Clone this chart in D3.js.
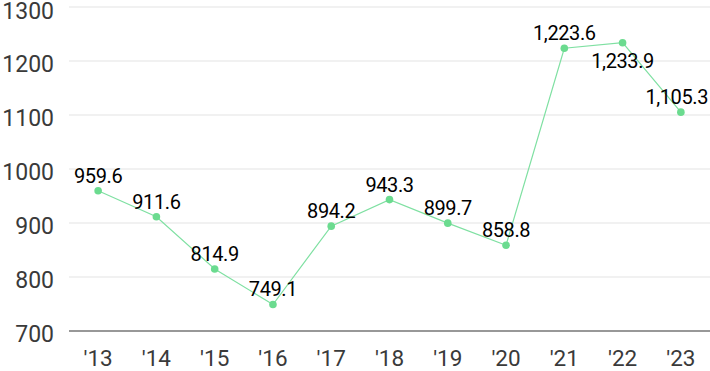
<!DOCTYPE html>
<html lang="ko">
<head>
  <meta charset="UTF-8" />
  <title>Line chart</title>
  <style>
    body { margin: 0; background: #fff; }
    svg { display: block; font-family: Roboto, "Noto Sans", sans-serif; }
  </style>
</head>
<body>
  <svg width="710" height="371"></svg>
  <script src="https://cdnjs.cloudflare.com/ajax/libs/d3/7.8.5/d3.min.js"></script>
  <script>
    // data
    const years = ["'13", "'14", "'15", "'16", "'17", "'18", "'19", "'20", "'21", "'22", "'23"];
    const values = [959.6, 911.6, 814.9, 749.1, 894.2, 943.3, 899.7, 858.8, 1223.6, 1233.9, 1105.3];
    const yTicks = [700, 800, 900, 1000, 1100, 1200, 1300];
    const below = ["'22"];

    const width = 710, height = 371;
    const margin = { top: 7, right: 0, bottom: 40, left: 69 };

    const svg = d3.select("svg");

    const x = d3.scaleBand()
      .domain(years)
      .range([margin.left, width - margin.right]);

    const y = d3.scaleLinear()
      .domain([700, 1300])
      .range([height - margin.bottom, margin.top]);

    // grid
    svg.append("g")
      .selectAll("line")
      .data(yTicks.slice(1))
      .join("line")
      .attr("x1", margin.left)
      .attr("x2", width)
      .attr("y1", d => y(d))
      .attr("y2", d => y(d))
      .attr("stroke", "#e3e3e3")
      .attr("stroke-width", 1);

    // baseline
    svg.append("line")
      .attr("x1", margin.left)
      .attr("x2", width)
      .attr("y1", y(700))
      .attr("y2", y(700))
      .attr("stroke", "#333")
      .attr("stroke-width", 1.2);

    // y tick labels
    svg.append("g")
      .selectAll("text")
      .data(yTicks)
      .join("text")
      .attr("x", 54)
      .attr("y", d => Math.max(y(d) + 3, 11))
      .attr("dy", "0.35em")
      .attr("text-anchor", "end")
      .attr("font-size", 23)
      .attr("fill", "#3a3a3a")
      .text(d => d);

    // x tick labels
    svg.append("g")
      .selectAll("text")
      .data(years)
      .join("text")
      .attr("x", d => x(d) + x.bandwidth() / 2)
      .attr("y", 358.5)
      .attr("dy", "0.35em")
      .attr("text-anchor", "middle")
      .attr("font-size", 22.5)
      .attr("fill", "#3a3a3a")
      .text(d => d);

    const pts = years.map((k, i) => ({ k, v: values[i] }));

    svg.append("path")
      .datum(pts)
      .attr("fill", "none")
      .attr("stroke", "#7fe0a2")
      .attr("stroke-width", 1.2)
      .attr("d", d3.line().x(d => x(d.k) + x.bandwidth() / 2).y(d => y(d.v)));

    svg.append("g")
      .selectAll("circle")
      .data(pts)
      .join("circle")
      .attr("cx", d => x(d.k) + x.bandwidth() / 2)
      .attr("cy", d => y(d.v))
      .attr("r", 3.8)
      .attr("fill", "#6bdb8f");

    const fmt = d3.format(",.1f");
    svg.append("g")
      .selectAll("text")
      .data(pts)
      .join("text")
      .attr("y", d => below.includes(d.k) ? y(d.v) + 18 : y(d.v) - 15)
      .attr("dy", "0.35em")
      .attr("text-anchor", "middle")
      .attr("font-size", 20)
      .attr("letter-spacing", -0.4)
      .attr("fill", "#000")
      .text(d => fmt(d.v))
      .attr("x", function(d) {
        // keep the last label inside the frame
        const half = this.getComputedTextLength() / 2;
        return Math.min(x(d.k) + x.bandwidth() / 2, width - half - 2);
      });
  </script>
</body>
</html>
